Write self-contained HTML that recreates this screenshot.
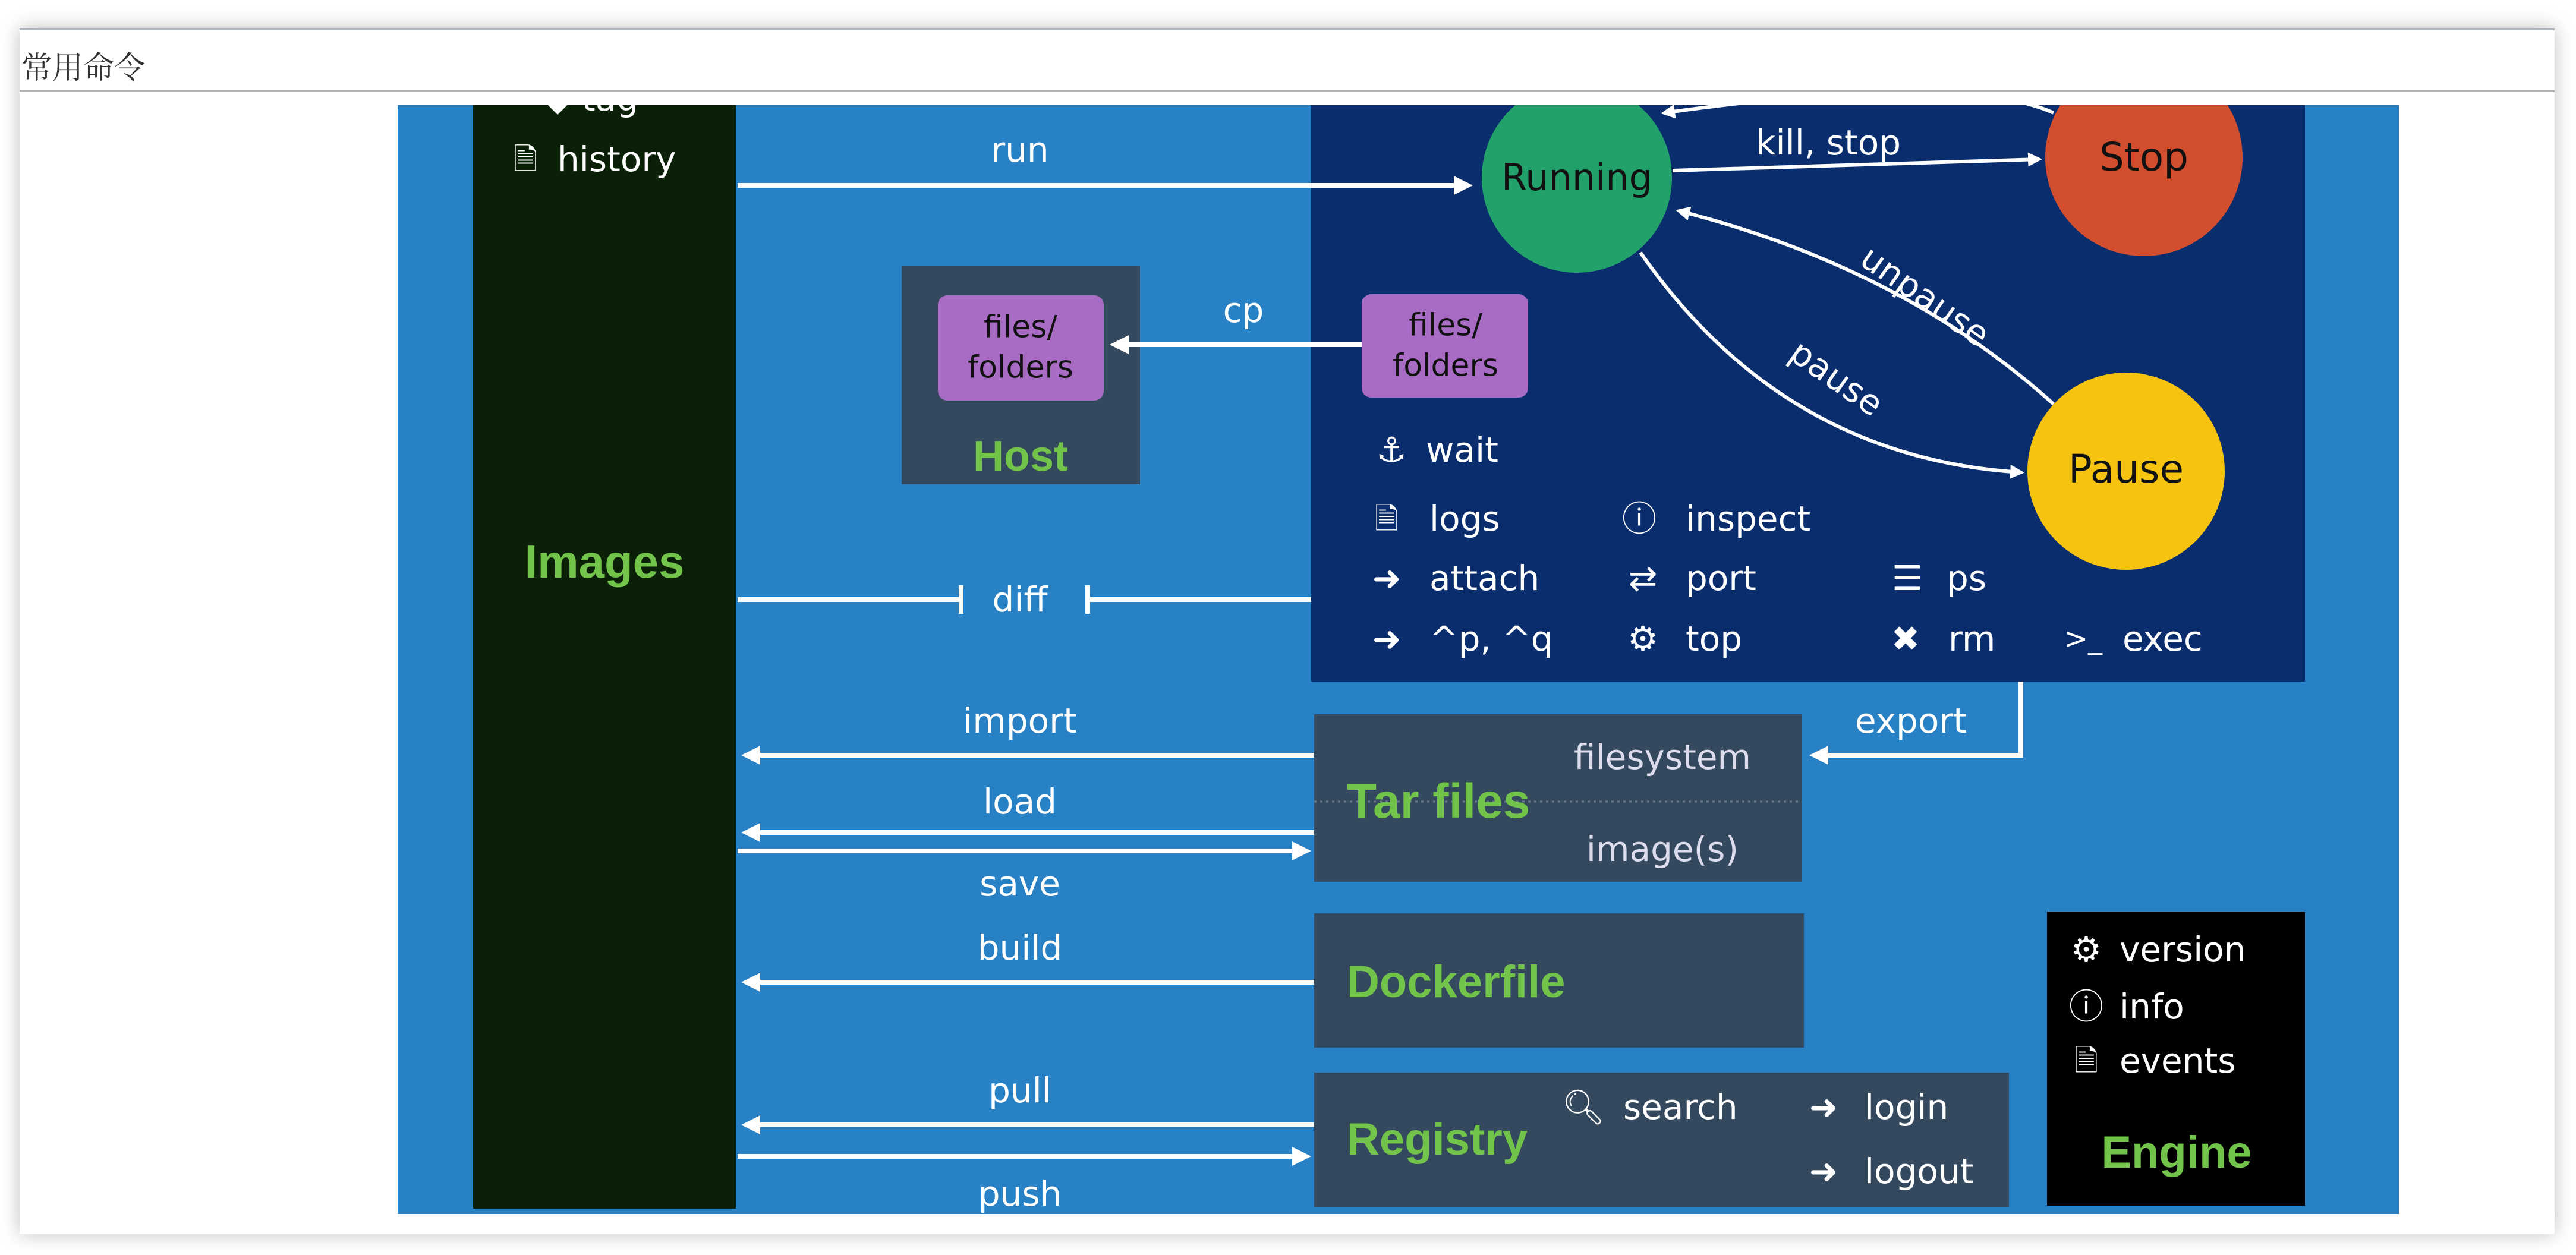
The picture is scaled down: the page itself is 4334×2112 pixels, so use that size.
<!DOCTYPE html>
<html><head><meta charset="utf-8"><style>
html,body{margin:0;padding:0;width:4334px;height:2112px;background:#fff;overflow:hidden;font-family:"Liberation Sans","DejaVu Sans",sans-serif}
.card{position:absolute;left:33px;top:47px;width:4265px;height:2026px;background:#fff;box-shadow:0 0 30px rgba(0,0,0,.25);border-top:4px solid #aab4c0}
.hd{position:absolute;left:33px;top:152px;width:4265px;height:3px;background:#b0b0b0}
.title{position:absolute;left:36px;top:72px;font-size:52px;color:#333;font-family:"Liberation Serif","Noto Serif CJK SC",serif}
.wrap{position:absolute;left:0;top:0;width:4334px;height:2112px;clip-path:inset(177px 298px 69px 669px)}
.b{position:absolute}
.t{position:absolute;transform:translate(-50%,-50%);white-space:nowrap;color:#fff;font-size:58px;line-height:1;font-family:"DejaVu Sans","Liberation Sans",sans-serif}
.l{position:absolute;transform:translateY(-50%);white-space:nowrap;color:#fff;font-size:58px;line-height:1;font-family:"DejaVu Sans","Liberation Sans",sans-serif}
.g{color:#72c34a;font-weight:bold;font-family:"Liberation Sans",sans-serif}
.dk{color:#111}
</style></head><body>
<div class="card"></div>
<div class="hd"></div>
<div class="title">常用命令</div>
<div class="wrap">
<div class="b" style="left:669px;top:177px;width:3367px;height:1866px;background:#2781c4"></div>
<div class="b" style="left:796px;top:150px;width:442px;height:1884px;background:#0b2107"></div>
<div class="b" style="left:2206px;top:150px;width:1672px;height:997px;background:#0a2d6e"></div>
<div class="b" style="left:1517px;top:448px;width:401px;height:367px;background:#34495e"></div>
<div class="b" style="left:1578px;top:497px;width:279px;height:177px;background:#a96cc5;border-radius:16px"></div>
<div class="b" style="left:2291px;top:495px;width:280px;height:174px;background:#a96cc5;border-radius:16px"></div>
<div class="b" style="left:2211px;top:1202px;width:821px;height:282px;background:#34495e"></div>
<div class="b" style="left:2211px;top:1537px;width:824px;height:226px;background:#34495e"></div>
<div class="b" style="left:2211px;top:1805px;width:1169px;height:227px;background:#34495e"></div>
<div class="b" style="left:3444px;top:1534px;width:434px;height:495px;background:#000"></div>
<svg class="b" style="left:0;top:0" width="4334" height="2112">
<defs><marker id="a" markerWidth="4" markerHeight="4" refX="3" refY="2" orient="auto" markerUnits="strokeWidth"><path d="M0,0 L4,2 L0,4 z" fill="#fff"/></marker></defs>
<g stroke="#fff" stroke-width="8" fill="none">
<circle cx="2653" cy="299" r="160" fill="#22a26a" stroke="none"/>
<circle cx="3607" cy="265" r="166" fill="#d24e2f" stroke="none"/>
<circle cx="3577" cy="793" r="166" fill="#f5c310" stroke="none"/>
<line x1="1241" y1="312" x2="2470" y2="312" marker-end="url(#a)"/>
<line x1="2814" y1="287" x2="3430" y2="268" marker-end="url(#a)" stroke-width="6"/>
<path d="M3455,190 Q3300,120 2800,190" marker-end="url(#a)" stroke-width="6"/>
<path d="M3455,680 Q3200,450 2825,355" marker-end="url(#a)" stroke-width="6"/>
<path d="M2760,425 Q3000,770 3400,795" marker-end="url(#a)" stroke-width="6"/>
<line x1="2291" y1="580" x2="1875" y2="580" marker-end="url(#a)"/>
<line x1="1241" y1="1009" x2="1617" y2="1009"/><line x1="1617" y1="985" x2="1617" y2="1033"/>
<line x1="1830" y1="1009" x2="2206" y2="1009"/><line x1="1830" y1="985" x2="1830" y2="1033"/>
<line x1="2211" y1="1271" x2="1255" y2="1271" marker-end="url(#a)"/>
<line x1="2211" y1="1401" x2="1255" y2="1401" marker-end="url(#a)"/>
<line x1="1241" y1="1432" x2="2198" y2="1432" marker-end="url(#a)"/>
<line x1="2211" y1="1653" x2="1255" y2="1653" marker-end="url(#a)"/>
<line x1="2211" y1="1893" x2="1255" y2="1893" marker-end="url(#a)"/>
<line x1="1241" y1="1946" x2="2198" y2="1946" marker-end="url(#a)"/>
<polyline points="3400,1147 3400,1271 3052,1271" marker-end="url(#a)"/>
<line x1="2211" y1="1349" x2="3032" y2="1349" stroke="#6a7a8a" stroke-width="3" stroke-dasharray="4,6"/>
</g></svg>
<div class="t" style="left:995px;top:166px">◆ tag</div>
<div class="t" style="left:884px;top:268px;font-size:50px">🗎</div>
<div class="l" style="left:938px;top:268px">history</div>
<div class="t g" style="left:1017px;top:945px;font-size:78px">Images</div>
<div class="t" style="left:1716px;top:252px">run</div>
<div class="t dk" style="left:2653px;top:299px;font-size:62px">Running</div>
<div class="t dk" style="left:3607px;top:265px;font-size:66px">Stop</div>
<div class="t dk" style="left:3577px;top:790px;font-size:66px">Pause</div>
<div class="t" style="left:3076px;top:240px">kill, stop</div>
<div class="t" style="left:3239px;top:498px;transform:translate(-50%,-50%) rotate(35deg)">unpause</div>
<div class="t" style="left:3090px;top:636px;transform:translate(-50%,-50%) rotate(35deg)">pause</div>
<div class="t dk" style="left:1717px;top:585px;font-size:52px;text-align:center;line-height:1.3">files/<br>folders</div>
<div class="t dk" style="left:2432px;top:582px;font-size:52px;text-align:center;line-height:1.3">files/<br>folders</div>
<div class="t g" style="left:1717px;top:768px;font-size:72px">Host</div>
<div class="t" style="left:2092px;top:522px">cp</div>
<div class="t" style="left:2341px;top:757px">⚓</div><div class="l" style="left:2399px;top:757px">wait</div>
<div class="t" style="left:2333px;top:873px;font-size:50px">🗎</div><div class="l" style="left:2405px;top:873px">logs</div>
<div class="t" style="left:2758px;top:873px">ⓘ</div><div class="l" style="left:2836px;top:873px">inspect</div>
<div class="t" style="left:2333px;top:973px">➜</div><div class="l" style="left:2405px;top:973px">attach</div>
<div class="t" style="left:2764px;top:973px">⇄</div><div class="l" style="left:2836px;top:973px">port</div>
<div class="t" style="left:3209px;top:973px">☰</div><div class="l" style="left:3275px;top:973px">ps</div>
<div class="t" style="left:2333px;top:1075px">➜</div><div class="l" style="left:2405px;top:1075px">^p, ^q</div>
<div class="t" style="left:2764px;top:1075px">⚙</div><div class="l" style="left:2836px;top:1075px">top</div>
<div class="t" style="left:3206px;top:1075px">✖</div><div class="l" style="left:3278px;top:1075px">rm</div>
<div class="t" style="left:3505px;top:1075px;font-size:48px">&gt;_</div><div class="l" style="left:3571px;top:1075px">exec</div>
<div class="t" style="left:1716px;top:1009px">diff</div>
<div class="t" style="left:1716px;top:1213px">import</div>
<div class="t" style="left:2797px;top:1274px;color:#dde">filesystem</div>
<div class="l g" style="left:2266px;top:1349px;font-size:82px">Tar files</div>
<div class="t" style="left:2797px;top:1429px;color:#dde">image(s)</div>
<div class="t" style="left:3215px;top:1213px">export</div>
<div class="t" style="left:1716px;top:1349px">load</div>
<div class="t" style="left:1716px;top:1487px">save</div>
<div class="t" style="left:1716px;top:1595px">build</div>
<div class="l g" style="left:2266px;top:1653px;font-size:76px">Dockerfile</div>
<div class="t" style="left:1716px;top:1835px">pull</div>
<div class="t" style="left:1716px;top:2009px">push</div>
<div class="l g" style="left:2266px;top:1918px;font-size:76px">Registry</div>
<div class="t" style="left:2664px;top:1863px">🔍︎</div><div class="l" style="left:2731px;top:1863px">search</div>
<div class="t" style="left:3068px;top:1863px">➜</div><div class="l" style="left:3137px;top:1863px">login</div>
<div class="t" style="left:3068px;top:1971px">➜</div><div class="l" style="left:3137px;top:1971px">logout</div>
<div class="t" style="left:3510px;top:1598px">⚙</div><div class="l" style="left:3566px;top:1598px">version</div>
<div class="t" style="left:3510px;top:1694px">ⓘ</div><div class="l" style="left:3566px;top:1694px">info</div>
<div class="t" style="left:3510px;top:1785px;font-size:50px">🗎</div><div class="l" style="left:3566px;top:1785px">events</div>
<div class="t g" style="left:3662px;top:1940px;font-size:76px">Engine</div>
</div>
</body></html>
